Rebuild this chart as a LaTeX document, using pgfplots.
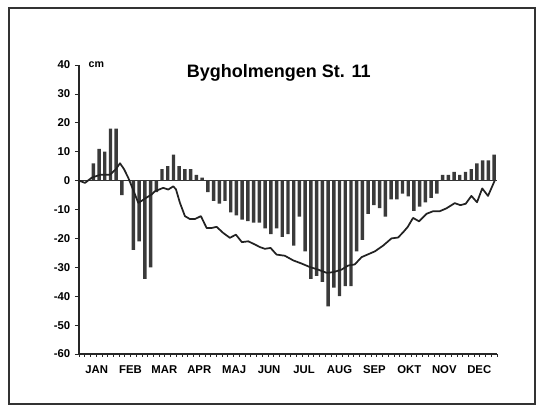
\documentclass[border=0pt]{standalone}
\usepackage{fontspec}
\setmainfont{Liberation Sans}
\usepackage{pgfplots}
\usepackage{pgfplotstable}
\pgfplotsset{compat=1.18}
\definecolor{barc}{HTML}{3A3A3A}
\definecolor{lnc}{HTML}{222222}
\pgfplotstableread{
x y
0.5 0
1.5 0
2.5 6
3.5 11
4.5 10
5.5 18
6.5 18
7.5 -5
8.5 0
9.5 -24
10.5 -21
11.5 -34
12.5 -30
13.5 -4
14.5 4
15.5 5
16.5 9
17.5 5
18.5 4
19.5 4
20.5 2
21.5 1
22.5 -4
23.5 -7
24.5 -8
25.5 -7
26.5 -11
27.5 -12
28.5 -13.5
29.5 -14
30.5 -14.5
31.5 -14.5
32.5 -16.5
33.5 -18.5
34.5 -16.5
35.5 -19.5
36.5 -18.5
37.5 -22.5
38.5 -12.5
39.5 -24.5
40.5 -34
41.5 -33
42.5 -35
43.5 -43.5
44.5 -37
45.5 -40
46.5 -36.5
47.5 -36.5
48.5 -24.5
49.5 -20.5
50.5 -11.5
51.5 -8.5
52.5 -9.5
53.5 -12.5
54.5 -6.5
55.5 -6.5
56.5 -4.5
57.5 -5.5
58.5 -10.5
59.5 -9
60.5 -7.5
61.5 -6
62.5 -4.5
63.5 2
64.5 2
65.5 3
66.5 2
67.5 3
68.5 4
69.5 6
70.5 7
71.5 7
72.5 9
}\bars
\pgfplotstableread{
x y
0 0
1.05 -0.8
2.22 1
3.66 2
5.41 2
6.46 4
7.16 6
7.85 4
8.60 1
9.42 -3
10.35 -7.7
10.94 -7
11.69 -6
12.69 -4.8
13.26 -3.7
14.71 -2.5
15.58 -3.1
16.46 -2
16.93 -3
17.63 -7.7
18.50 -12.3
19.37 -13.3
20.24 -13.3
21.29 -12.3
22.29 -16.4
23.16 -16.4
24.03 -16
25.18 -18.1
26.35 -19.8
27.40 -18.7
28.45 -21.3
29.55 -21
30.72 -22.1
31.59 -23
32.46 -23.6
33.46 -23.3
34.50 -25.6
35.95 -26
37.40 -27.6
38.87 -28.7
40.31 -29.9
41.76 -30.8
43.23 -31.9
44.38 -31.7
45.85 -30.8
47.00 -29.4
48.17 -29
49.34 -26.5
50.49 -25.5
51.66 -24.5
53.11 -22.5
54.57 -20
55.72 -19.7
56.60 -17.9
57.42 -16
58.34 -12.9
59.39 -14.1
60.68 -11.5
61.83 -10.6
63.00 -10.6
64.17 -9.6
65.62 -7.8
66.61 -8.5
67.54 -8
68.53 -5.3
69.51 -7.5
70.42 -2.7
71.43 -5.3
72.60 0
}\line
\begin{document}
\begin{tikzpicture}[x=1pt,y=1pt]
\path[use as bounding box] (-59.25,-43.5) rectangle (348,265.5);
\draw[line width=1pt, black!80] (-52.5,-37.5) rectangle (342,259.5);
\begin{axis}[at={(0,0)}, anchor=south west, scale only axis,
  width=313.5pt, height=216.75pt,
  xmin=0, xmax=73, ymin=-60, ymax=40,
  axis lines=left, axis line style={-, line width=0.8pt, black!85},
  ytick={-60,-50,...,40},
  yticklabel style={font=\bfseries\fontsize{8.5}{10}\selectfont},
  xtick={3.1,9,14.9,21,27.1,33.2,39.3,45.5,51.6,57.7,63.8,69.9},
  xticklabels={JAN,FEB,MAR,APR,MAJ,JUN,JUL,AUG,SEP,OKT,NOV,DEC},
  minor xtick={0,1,...,73},
  tick align=outside,
  tick style={black!85, line width=0.6pt},
  major tick length=3pt, minor tick length=2.2pt,
  major x tick style={draw=none},
  xticklabel style={font=\bfseries\fontsize{8.5}{10}\selectfont, yshift=-2pt},
  /pgf/number format/assume math mode=true,
  clip=false,
]
\draw[black!80, line width=0.6pt] (axis cs:0,0) -- (axis cs:73,0);
\addplot[ybar, bar width=0.6, fill=barc, draw=none] table[x=x,y=y] {\bars};
\addplot[sharp plot, no markers, lnc, line width=1.3pt, line join=round] table[x=x,y=y] {\line};
\node[font=\bfseries\fontsize{8}{9}\selectfont, anchor=west] at (rel axis cs:0.012,1.002) {cm};
\node[font=\bfseries\fontsize{13.5}{16}\selectfont] at (rel axis cs:0.478,0.972) {Bygholmengen St. 11};
\end{axis}
\end{tikzpicture}
\end{document}
